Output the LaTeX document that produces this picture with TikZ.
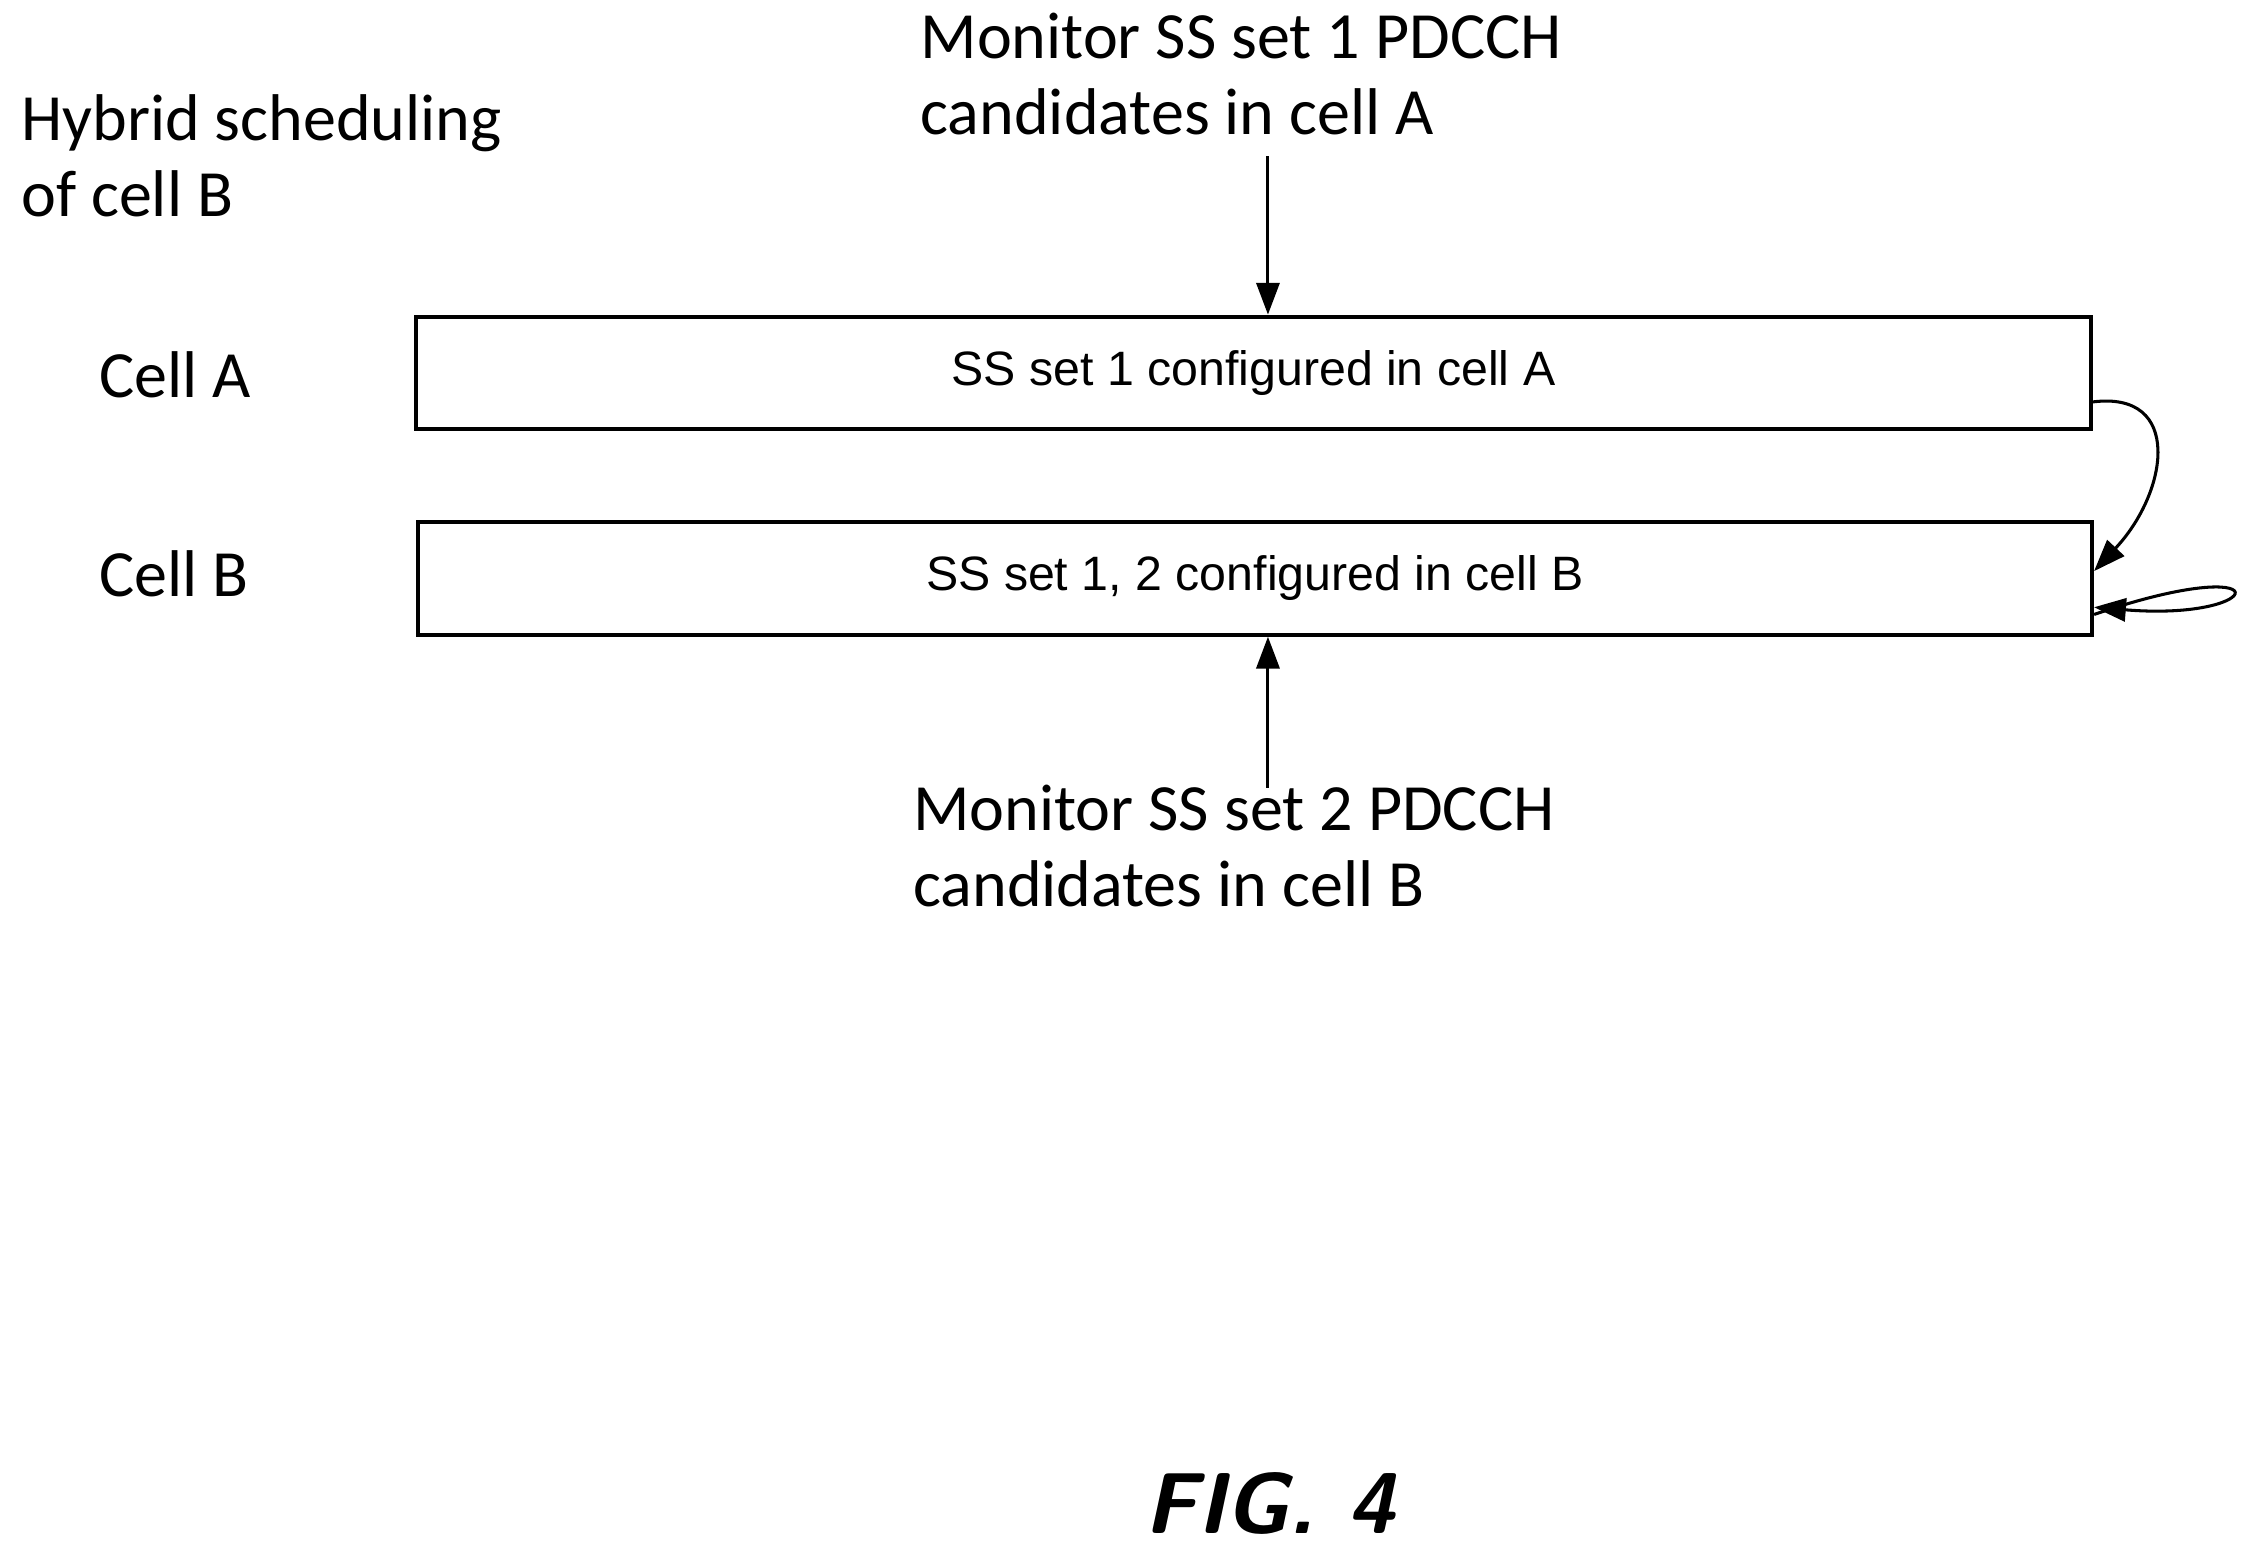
\documentclass[tikz,border=0pt]{standalone}
\usepackage{fontspec}
\setmainfont{Carlito}
\newfontfamily\arialf{Liberation Sans}
\usetikzlibrary{arrows.meta}
\begin{document}
\begin{tikzpicture}[x=0.1mm,y=-0.1mm,
  lbl/.style={font=\fontsize{13}{16}\selectfont,anchor=west,inner sep=0,align=left},
  cellbox/.style={draw,line width=0.8pt,minimum width=115.8mm,minimum height=7.8mm,font=\arialf\fontsize{9.5}{11}\selectfont},
  arr/.style={-{Triangle[length=2.2mm,width=1.6mm]},line width=0.6pt}]
\useasboundingbox (0,0) rectangle (1568,1072);
\node[cellbox] (A) at (867,258) {SS set 1 configured in cell A};
\node[cellbox] (B) at (868,400) {SS set 1, 2 configured in cell B};
\node[lbl] (hy) at (14,108) {Hybrid scheduling\\[-1pt]of cell B};
\node[lbl] (ca) at (68,259) {Cell A};
\node[lbl] (cb) at (68,397) {Cell B};
\node[lbl,anchor=north west] (t1) at (636,8) {Monitor SS set 1 PDCCH\\[-1pt]candidates in cell A};
\node[lbl,anchor=north west] (t2) at (631,542) {Monitor SS set 2 PDCCH\\[-1pt]candidates in cell B};
\node[font=\sffamily\bfseries\itshape\fontsize{17}{20}\selectfont] (fig) at (878,1040) {FIG. 4};
\coordinate (a1) at (877,108);
\coordinate (b1) at (877,545);
\draw[arr] (a1) -- (A.north -| a1);
\draw[arr] (b1) -- (B.south -| b1);
\draw[arr] ([yshift=-2mm]A.east) .. controls (1510,270) and (1500,340) .. ([yshift=0.5mm]B.east);
\draw[arr] ([yshift=-2.5mm]B.east) .. controls (1580,380) and (1570,430) .. ([yshift=-2mm]B.east);
\end{tikzpicture}
\end{document}
